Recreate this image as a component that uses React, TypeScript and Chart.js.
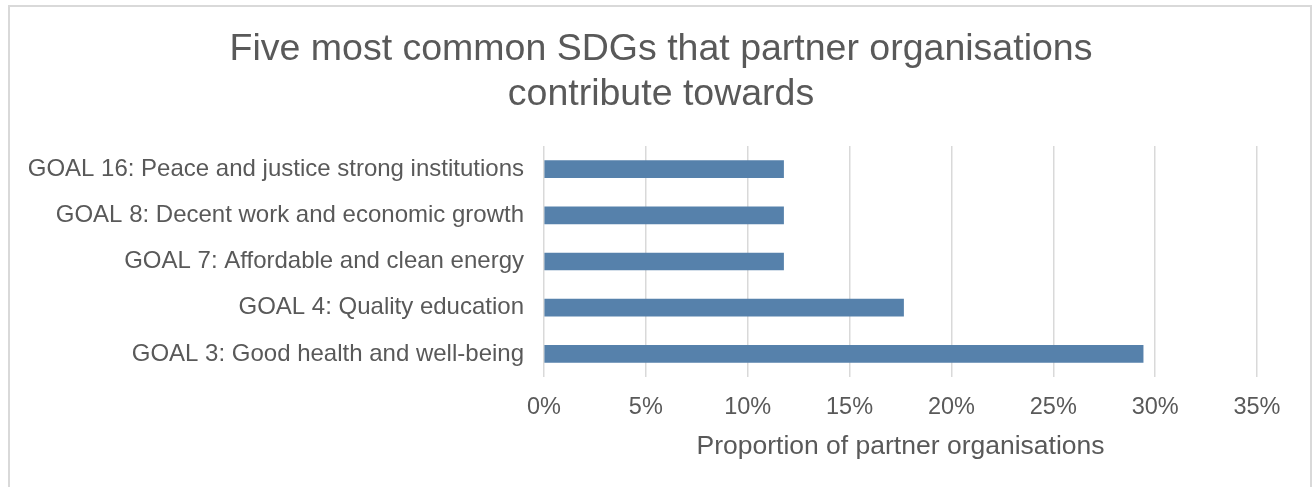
import React, { useEffect, useRef } from "react";
import { Chart, registerables } from "chart.js";

Chart.register(...registerables);

const categories = [
  "GOAL 16: Peace and justice strong institutions",
  "GOAL 8: Decent work and economic growth",
  "GOAL 7: Affordable and clean energy",
  "GOAL 4: Quality education",
  "GOAL 3: Good health and well-being",
];
const values = [11.76, 11.76, 11.76, 17.65, 29.41];
const titleLines = [
  "Five most common SDGs that partner organisations",
  "contribute towards",
];
const xAxisTitle = "Proportion of partner organisations";

const FONT = "'Liberation Sans', Arial, sans-serif";
const TEXT = "#595959";
const GRID = "#d9d9d9";
const BAR = "#5681ab";

export default function App() {
  const ref = useRef<HTMLCanvasElement | null>(null);

  useEffect(() => {
    if (!ref.current) return;
    const chart = new Chart(ref.current, {
      type: "bar",
      data: {
        labels: categories,
        datasets: [
          {
            data: values,
            backgroundColor: BAR,
            borderWidth: 0,
            barThickness: 17,
            xAxisID: "x",
            yAxisID: "y",
          },
        ],
      },
      options: {
        indexAxis: "y",
        animation: false,
        responsive: true,
        maintainAspectRatio: false,
        layout: { padding: { top: 0, right: 0, bottom: 0, left: 10 } },
        plugins: {
          legend: { display: false },
          tooltip: { enabled: false },
          title: {
            display: true,
            text: titleLines,
            color: TEXT,
            font: { family: FONT, size: 37.5, weight: "normal", lineHeight: 45 / 37.5 },
            padding: { top: 27, bottom: 29 },
          },
        },
        scales: {
          x: {
            min: 0,
            max: 35,
            ticks: {
              stepSize: 5,
              callback: (v: any) => v + "%",
              color: TEXT,
              font: { family: FONT, size: 23.5 },
              padding: 16,
            },
            grid: { color: GRID, lineWidth: 1.5, drawTicks: false },
            border: { display: false },
            title: {
              display: true,
              text: xAxisTitle,
              color: TEXT,
              font: { family: FONT, size: 26.5 },
              padding: { top: 0, bottom: 24 },
            },
            afterFit: (s: any) => {
              s.height = 110;
            },
          },
          y: {
            grid: { display: false, drawTicks: false },
            border: { display: false },
            ticks: {
              color: TEXT,
              font: { family: FONT, size: 24 },
              padding: 20,
            },
            afterFit: (s: any) => {
              s.width = 544 - 10;
            },
          },
          yRight: {
            axis: "y",
            type: "category",
            position: "right",
            grid: { display: false, drawTicks: false },
            border: { display: false },
            ticks: { display: false },
            afterFit: (s: any) => {
              s.width = 1312 - 1257;
            },
          },
        },
      },
    });
    return () => chart.destroy();
  }, []);

  return (
    <div style={{ position: "absolute", left: 0, top: 0, width: 1312, height: 487, background: "#fff" }}>
      <div
        style={{
          position: "absolute",
          left: 8,
          top: 5,
          width: 1304,
          height: 600,
          border: "2px solid #d9d9d9",
          boxSizing: "border-box",
        }}
      />
      <div style={{ position: "absolute", left: 0, top: 0, width: 1312, height: 487 }}>
        <canvas ref={ref} />
      </div>
    </div>
  );
}
